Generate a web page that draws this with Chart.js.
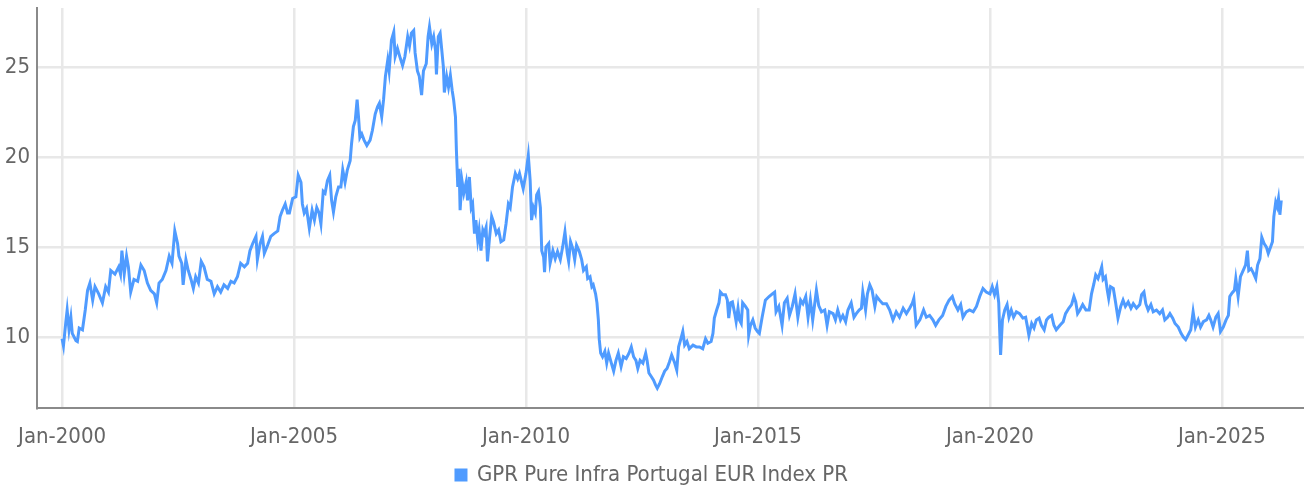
<!DOCTYPE html>
<html lang="en">
<head>
    <meta charset="UTF-8">
    <title>GPR Pure Infra Portugal EUR Index PR</title>
    <script src="https://cdn.jsdelivr.net/npm/chart.js"></script>
    <style>
        html, body { margin: 0; padding: 0; background: #fff; }
        #wrap { width: 1304px; height: 493px; }
    </style>
</head>
<body>
    <div id="wrap"><canvas id="indexChart" width="1304" height="493"></canvas></div>
    <script>
        // dates as decimal years
        const dates = [
            2000.00, 2000.03, 2000.08, 2000.11, 2000.15, 2000.19, 2000.22, 2000.30, 2000.33, 2000.37,
            2000.44, 2000.50, 2000.55, 2000.60, 2000.66, 2000.71, 2000.79, 2000.87, 2000.94, 2001.00,
            2001.05, 2001.14, 2001.22, 2001.26, 2001.29, 2001.34, 2001.39, 2001.43, 2001.48, 2001.55,
            2001.63, 2001.70, 2001.77, 2001.84, 2001.91, 2001.99, 2002.04, 2002.09, 2002.16, 2002.24,
            2002.31, 2002.37, 2002.43, 2002.49, 2002.52, 2002.58, 2002.61, 2002.67, 2002.72, 2002.78,
            2002.83, 2002.88, 2002.94, 2003.00, 2003.06, 2003.13, 2003.21, 2003.28, 2003.35, 2003.42,
            2003.49, 2003.57, 2003.64, 2003.71, 2003.78, 2003.85, 2003.93, 2004.00, 2004.05, 2004.11,
            2004.18, 2004.21, 2004.27, 2004.32, 2004.36, 2004.43, 2004.50, 2004.57, 2004.65, 2004.70,
            2004.75, 2004.81, 2004.86, 2004.90, 2004.97, 2005.04, 2005.09, 2005.15, 2005.18, 2005.22,
            2005.27, 2005.33, 2005.39, 2005.44, 2005.49, 2005.54, 2005.58, 2005.63, 2005.67, 2005.72,
            2005.77, 2005.81, 2005.85, 2005.90, 2005.96, 2006.01, 2006.05, 2006.10, 2006.15, 2006.21,
            2006.24, 2006.28, 2006.32, 2006.36, 2006.39, 2006.42, 2006.46, 2006.51, 2006.57, 2006.64,
            2006.69, 2006.75, 2006.80, 2006.84, 2006.89, 2006.93, 2006.97, 2007.02, 2007.05, 2007.10,
            2007.15, 2007.18, 2007.23, 2007.28, 2007.34, 2007.39, 2007.45, 2007.49, 2007.53, 2007.58,
            2007.61, 2007.66, 2007.70, 2007.75, 2007.79, 2007.85, 2007.89, 2007.92, 2007.97, 2008.01,
            2008.05, 2008.07, 2008.11, 2008.15, 2008.18, 2008.22, 2008.24, 2008.29, 2008.33, 2008.37,
            2008.41, 2008.44, 2008.48, 2008.50, 2008.53, 2008.56, 2008.58, 2008.62, 2008.66, 2008.71,
            2008.74, 2008.78, 2008.82, 2008.85, 2008.89, 2008.92, 2008.96, 2008.99, 2009.03, 2009.07,
            2009.10, 2009.14, 2009.17, 2009.21, 2009.26, 2009.30, 2009.36, 2009.41, 2009.46, 2009.52,
            2009.57, 2009.62, 2009.66, 2009.71, 2009.77, 2009.82, 2009.86, 2009.94, 2010.00, 2010.05,
            2010.09, 2010.12, 2010.16, 2010.20, 2010.23, 2010.27, 2010.31, 2010.34, 2010.38, 2010.40,
            2010.43, 2010.49, 2010.52, 2010.58, 2010.63, 2010.68, 2010.74, 2010.79, 2010.84, 2010.89,
            2010.92, 2010.96, 2011.01, 2011.05, 2011.09, 2011.15, 2011.20, 2011.24, 2011.30, 2011.33,
            2011.38, 2011.42, 2011.45, 2011.50, 2011.53, 2011.56, 2011.58, 2011.61, 2011.65, 2011.70,
            2011.74, 2011.78, 2011.84, 2011.89, 2011.94, 2011.99, 2012.05, 2012.10, 2012.16, 2012.22,
            2012.27, 2012.32, 2012.37, 2012.41, 2012.46, 2012.52, 2012.58, 2012.61, 2012.65, 2012.70,
            2012.75, 2012.79, 2012.83, 2012.88, 2012.94, 2012.99, 2013.04, 2013.09, 2013.14, 2013.20,
            2013.25, 2013.29, 2013.35, 2013.38, 2013.42, 2013.47, 2013.52, 2013.60, 2013.67, 2013.74,
            2013.81, 2013.87, 2013.92, 2013.99, 2014.03, 2014.06, 2014.11, 2014.16, 2014.19, 2014.24,
            2014.30, 2014.34, 2014.37, 2014.41, 2014.45, 2014.50, 2014.53, 2014.57, 2014.60, 2014.64,
            2014.67, 2014.73, 2014.78, 2014.80, 2014.84, 2014.89, 2014.94, 2014.99, 2015.03, 2015.09,
            2015.16, 2015.24, 2015.31, 2015.36, 2015.39, 2015.45, 2015.52, 2015.57, 2015.63, 2015.68,
            2015.74, 2015.80, 2015.86, 2015.92, 2015.97, 2016.03, 2016.08, 2016.13, 2016.18, 2016.26,
            2016.31, 2016.37, 2016.44, 2016.49, 2016.54, 2016.62, 2016.67, 2016.72, 2016.78, 2016.83,
            2016.89, 2016.94, 2017.01, 2017.07, 2017.12, 2017.18, 2017.23, 2017.26, 2017.32, 2017.36,
            2017.41, 2017.46, 2017.52, 2017.56, 2017.62, 2017.69, 2017.77, 2017.84, 2017.91, 2017.98,
            2018.05, 2018.13, 2018.20, 2018.27, 2018.33, 2018.36, 2018.41, 2018.49, 2018.57, 2018.63,
            2018.70, 2018.77, 2018.83, 2018.90, 2018.98, 2019.05, 2019.12, 2019.19, 2019.24, 2019.31,
            2019.37, 2019.42, 2019.49, 2019.56, 2019.64, 2019.71, 2019.78, 2019.85, 2019.92, 2020.00,
            2020.05, 2020.10, 2020.15, 2020.19, 2020.21, 2020.23, 2020.27, 2020.32, 2020.37, 2020.41,
            2020.46, 2020.51, 2020.57, 2020.64, 2020.71, 2020.77, 2020.81, 2020.84, 2020.90, 2020.95,
            2021.00, 2021.06, 2021.11, 2021.17, 2021.22, 2021.27, 2021.33, 2021.38, 2021.43, 2021.51,
            2021.58, 2021.63, 2021.70, 2021.76, 2021.81, 2021.85, 2021.89, 2021.94, 2022.00, 2022.07,
            2022.14, 2022.19, 2022.24, 2022.28, 2022.33, 2022.37, 2022.41, 2022.44, 2022.49, 2022.53,
            2022.56, 2022.60, 2022.66, 2022.71, 2022.76, 2022.82, 2022.87, 2022.92, 2022.98, 2023.04,
            2023.09, 2023.16, 2023.23, 2023.27, 2023.32, 2023.36, 2023.41, 2023.47, 2023.52, 2023.59,
            2023.66, 2023.72, 2023.77, 2023.83, 2023.88, 2023.94, 2023.99, 2024.06, 2024.12, 2024.17,
            2024.22, 2024.27, 2024.33, 2024.38, 2024.43, 2024.49, 2024.54, 2024.60, 2024.67, 2024.72,
            2024.76, 2024.81, 2024.87, 2024.92, 2024.97, 2025.03, 2025.09, 2025.14, 2025.17, 2025.22,
            2025.27, 2025.30, 2025.35, 2025.40, 2025.46, 2025.51, 2025.55, 2025.58, 2025.63, 2025.68,
            2025.73, 2025.77, 2025.82, 2025.86, 2025.91, 2025.96, 2026.00, 2026.05, 2026.09, 2026.12,
            2026.16, 2026.19, 2026.22, 2026.25, 2026.28
        ];
        const values = [
            9.9, 9.5, 10.8, 11.5, 10.4, 11.1, 10.2, 9.8, 9.75, 10.5,
            10.4, 11.5, 12.6, 13.0, 12.05, 12.8, 12.4, 11.9, 12.8, 12.5,
            13.7, 13.5, 13.9, 13.5, 14.8, 13.5, 14.5, 13.9, 12.5, 13.2,
            13.1, 14.0, 13.7, 13.0, 12.6, 12.4, 11.9, 13.0, 13.2, 13.7,
            14.5, 14.1, 15.9, 15.2, 14.5, 14.1, 12.9, 14.3, 13.7, 13.2,
            12.7, 13.35, 13.0, 14.2, 13.9, 13.2, 13.1, 12.4, 12.8, 12.5,
            12.9, 12.7, 13.1, 13.0, 13.35, 14.1, 13.9, 14.1, 14.8, 15.2,
            15.6, 14.3, 15.2, 15.6, 14.65, 15.1, 15.6, 15.75, 15.9, 16.7,
            17.05, 17.4, 16.9, 16.9, 17.7, 17.8, 19.0, 18.6, 17.4, 16.9,
            17.15, 16.05, 17.05, 16.5, 17.2, 16.9, 16.3, 18.1, 18.0, 18.7,
            19.0, 17.6, 16.95, 17.8, 18.35, 18.35, 19.3, 18.6, 19.3, 19.8,
            20.75, 21.7, 22.05, 23.2, 22.25, 21.1, 21.3, 20.95, 20.65, 20.95,
            21.5, 22.4, 22.8, 23.0, 22.25, 23.2, 24.5, 25.4, 24.8, 26.5,
            26.96, 25.6, 26.05, 25.6, 25.1, 25.6, 26.7, 26.2, 26.9, 27.05,
            25.8, 24.8, 24.5, 23.45, 24.8, 25.2, 26.7, 27.25, 26.3, 26.7,
            25.95, 24.6, 26.7, 26.9, 26.1, 25.0, 23.6, 24.5, 23.9, 24.55,
            23.7, 23.2, 22.25, 20.4, 18.35, 19.35, 17.05, 18.7, 18.0, 18.6,
            17.6, 18.9, 17.2, 17.4, 15.75, 16.5, 15.4, 15.95, 14.8, 15.95,
            15.75, 16.1, 14.2, 15.4, 16.7, 16.4, 15.75, 15.95, 15.3, 15.4,
            16.3, 17.4, 17.2, 18.35, 19.1, 18.8, 19.1, 18.25, 19.1, 20.1,
            18.7, 16.5, 17.2, 16.9, 17.9, 18.1, 17.2, 14.8, 14.45, 13.6,
            15.0, 15.2, 14.1, 14.8, 14.35, 14.75, 14.3, 15.0, 15.85, 14.65,
            14.2, 15.3, 14.9, 14.3, 15.1, 14.75, 14.3, 13.7, 13.9, 13.25,
            13.35, 12.8, 12.9, 12.4, 11.9, 10.95, 9.85, 9.1, 8.9, 9.2,
            8.55, 9.1, 8.55, 8.1, 8.7, 9.1, 8.35, 8.9, 8.8, 9.1,
            9.45, 8.9, 8.7, 8.25, 8.7, 8.55, 9.1, 8.7, 8.0, 7.8,
            7.6, 7.35, 7.15, 7.4, 7.8, 8.1, 8.25, 8.6, 9.0, 8.6,
            8.15, 9.45, 10.0, 10.3, 9.55, 9.75, 9.35, 9.55, 9.45, 9.45,
            9.35, 9.9, 9.65, 9.75, 10.2, 11.05, 11.5, 11.9, 12.5, 12.35,
            12.35, 12.05, 11.05, 11.9, 11.95, 11.3, 10.85, 11.6, 10.95, 10.75,
            11.9, 11.7, 11.5, 10.1, 10.65, 10.95, 10.5, 10.3, 10.2, 11.1,
            12.05, 12.25, 12.4, 12.5, 11.4, 11.7, 10.65, 11.9, 12.15, 11.2,
            11.7, 12.4, 11.1, 12.05, 11.85, 12.25, 11.1, 12.05, 10.95, 12.6,
            11.75, 11.4, 11.5, 10.65, 11.4, 11.3, 10.95, 11.5, 10.95, 11.2,
            10.85, 11.5, 11.9, 11.1, 11.3, 11.5, 11.6, 12.5, 11.5, 12.4,
            12.9, 12.6, 11.7, 12.25, 12.05, 11.85, 11.85, 11.5, 10.95, 11.4,
            11.1, 11.6, 11.3, 11.6, 11.9, 12.15, 10.65, 10.95, 11.5, 11.1,
            11.2, 10.95, 10.65, 10.95, 11.2, 11.7, 12.05, 12.25, 11.85, 11.5,
            11.8, 11.1, 11.4, 11.5, 11.4, 11.7, 12.25, 12.7, 12.5, 12.4,
            12.8, 12.35, 12.8, 11.9, 10.4, 9.0, 10.95, 11.5, 11.8, 11.1,
            11.5, 11.1, 11.4, 11.3, 11.05, 11.1, 10.55, 10.1, 10.75, 10.5,
            10.95, 11.05, 10.65, 10.4, 10.95, 11.1, 11.2, 10.65, 10.4, 10.65,
            10.85, 11.3, 11.6, 11.8, 12.25, 11.95, 11.3, 11.5, 11.8, 11.5,
            11.5, 12.4, 12.95, 13.45, 13.25, 13.55, 13.9, 13.2, 13.35, 12.6,
            12.15, 12.8, 12.7, 11.9, 11.05, 11.7, 12.05, 11.7, 11.95, 11.6,
            11.85, 11.6, 11.8, 12.35, 12.5, 11.85, 11.5, 11.8, 11.4, 11.5,
            11.3, 11.5, 10.95, 11.1, 11.3, 11.05, 10.75, 10.55, 10.2, 10.0,
            9.85, 10.1, 10.4, 11.4, 10.55, 10.95, 10.55, 10.85, 10.95, 11.2,
            10.95, 10.55, 11.1, 11.3, 10.3, 10.55, 10.95, 11.2, 12.25, 12.45,
            12.6, 13.25, 12.25, 13.35, 13.7, 14.0, 14.8, 13.7, 13.8, 13.55,
            13.25, 14.0, 14.35, 15.55, 15.2, 15.0, 14.65, 15.0, 15.3, 16.7,
            17.5, 17.25, 17.7, 16.8, 17.6
        ];
        const xTicks = [2000, 2005, 2010, 2015, 2020, 2025];
        const yTicks = [10, 15, 20, 25];
        const seriesName = 'GPR Pure Infra Portugal EUR Index PR';

        const fontFamily = "'Liberation Sans Narrow', 'DejaVu Sans Condensed', 'Roboto', sans-serif";
        const lineColor = '#4f9bff';

        const points = dates.map((d, i) => ({ x: d, y: values[i] }));

        const ctx = document.getElementById('indexChart').getContext('2d');
        const indexChart = new Chart(ctx, {
            type: 'line',
            data: {
                datasets: [{
                    label: seriesName,
                    data: points,
                    borderColor: lineColor,
                    backgroundColor: lineColor,
                    borderWidth: 3,
                    pointRadius: 0,
                    tension: 0
                }]
            },
            options: {
                responsive: false,
                animation: false,
                maintainAspectRatio: false,
                layout: { padding: { top: 8, left: 0, right: 0, bottom: -3 } },
                scales: {
                    x: {
                        type: 'linear',
                        min: 1999.46,
                        max: 2026.77,
                        afterBuildTicks: (scale) => { scale.ticks = xTicks.map(v => ({ value: v })); },
                        afterFit: (scale) => {
                            // keep the plot bottom at the same place whatever the legend height
                            scale.height = 496 - 408 - scale.chart.legend.height;
                            scale.paddingLeft = 0;
                            scale.paddingRight = 0;
                        },
                        grid: { color: '#e8e8e8', lineWidth: 2.5, drawTicks: false },
                        border: { display: true, color: '#8a8a8a', width: 2 },
                        ticks: {
                            autoSkip: false,
                            maxRotation: 0,
                            padding: 16,
                            color: '#666',
                            font: { family: fontFamily, size: 22 },
                            callback: (v) => 'Jan-' + v
                        }
                    },
                    y: {
                        min: 6.05,
                        max: 28.3,
                        afterBuildTicks: (scale) => { scale.ticks = yTicks.map(v => ({ value: v })); },
                        afterFit: (scale) => {
                            scale.width = 37;
                            scale.paddingTop = 0;
                            scale.paddingBottom = 0;
                        },
                        grid: { color: '#e8e8e8', lineWidth: 2.5, drawTicks: false },
                        border: { display: true, color: '#8a8a8a', width: 2 },
                        ticks: {
                            padding: 7,
                            color: '#666',
                            font: { family: fontFamily, size: 22 }
                        }
                    }
                },
                plugins: {
                    legend: {
                        position: 'bottom',
                        labels: {
                            boxWidth: 10,
                            boxHeight: 10,
                            color: '#666',
                            padding: 10,
                            font: { family: fontFamily, size: 22 }
                        }
                    },
                    tooltip: { enabled: false }
                }
            }
        });
    </script>
</body>
</html>
